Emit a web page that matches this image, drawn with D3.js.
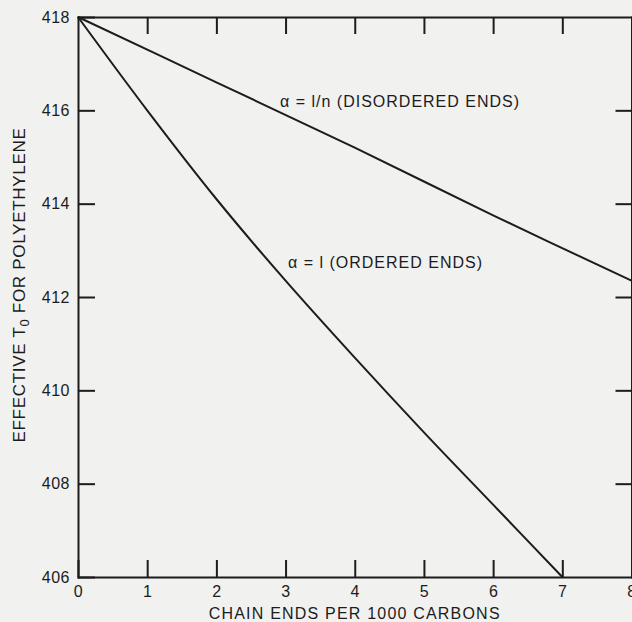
<!DOCTYPE html>
<html>
<head>
<meta charset="utf-8">
<script src="https://cdn.jsdelivr.net/npm/d3@7"></script>
<style>
  body { margin: 0; background: #f1f1f0; }
  svg { display: block; }
  .axis path, .axis line { stroke: #1c1c1c; stroke-width: 2px; }
  .axis text { font-family: 'Liberation Sans', Arial, sans-serif; font-size: 16px; fill: #1c1c1c; letter-spacing: 0.5px; }
  .lbl { font-family: 'Liberation Sans', Arial, sans-serif; font-size: 16px; fill: #1c1c1c; letter-spacing: 1px; }
</style>
</head>
<body>
<div id="chart"></div>
<script>
// x ticks and y ticks
const xTicks = [0, 1, 2, 3, 4, 5, 6, 7, 8];
const yTicks = [406, 408, 410, 412, 414, 416, 418];

// alpha = 1/n (disordered ends)
const disorderedX = [0, 2, 4, 6, 8];
const disorderedY = [418, 416.6, 415.2, 413.75, 412.35];

// alpha = 1 (ordered ends)
const orderedX = [0, 1, 2, 3, 4, 5, 6, 7];
const orderedY = [418, 416.0, 414.1, 412.35, 410.7, 409.1, 407.55, 406.0];

const margin = {top: 17, right: 1, bottom: 45, left: 78};
const width = 632 - margin.left - margin.right;
const height = 622 - margin.top - margin.bottom;

const svg = d3.select('#chart').append('svg')
  .attr('width', 632)
  .attr('height', 622)
  .append('g')
  .attr('transform', 'translate(' + margin.left + ',' + margin.top + ')');

const x = d3.scaleLinear().domain([0, 8]).range([0, 553.5]);
const y = d3.scaleLinear().domain([406, 418]).range([height, 0]);

// bottom axis, ticks pointing up
svg.append('g')
  .attr('class', 'axis')
  .attr('transform', 'translate(0,' + height + ')')
  .call(d3.axisBottom(x).tickValues(xTicks).tickFormat(d3.format('d'))
    .tickSizeInner(-17).tickSizeOuter(0).tickPadding(9));

// top axis, no labels
svg.append('g')
  .attr('class', 'axis')
  .call(d3.axisTop(x).tickValues(xTicks.slice(1, 8)).tickFormat('')
    .tickSizeInner(-17).tickSizeOuter(0));

// left axis
svg.append('g')
  .attr('class', 'axis')
  .call(d3.axisLeft(y).tickValues(yTicks).tickFormat(d3.format('d'))
    .tickSizeInner(-17).tickSizeOuter(0).tickPadding(8));

// right axis
svg.append('g')
  .attr('class', 'axis')
  .attr('transform', 'translate(' + x(8) + ',0)')
  .call(d3.axisRight(y).tickValues(yTicks.slice(1, 6)).tickFormat('')
    .tickSizeInner(-16).tickSizeOuter(0));

svg.selectAll('.axis .domain').attr('stroke-linecap', 'square');

const line = d3.line()
  .x(d => x(d[0]))
  .y(d => y(d[1]))
  .curve(d3.curveCatmullRom.alpha(0.5));

svg.append('path')
  .attr('style', 'fill: none; stroke: #1c1c1c; stroke-width: 2px')
  .attr('d', line(d3.zip(disorderedX, disorderedY)));

svg.append('path')
  .attr('style', 'fill: none; stroke: #1c1c1c; stroke-width: 2px')
  .attr('d', line(d3.zip(orderedX, orderedY)));

// curve labels
svg.append('text')
  .attr('class', 'lbl')
  .attr('x', 202)
  .attr('y', 90)
  .text('α = l/n (DISORDERED ENDS)');

svg.append('text')
  .attr('class', 'lbl')
  .attr('x', 210)
  .attr('y', 251)
  .text('α = l  (ORDERED ENDS)');

// x axis title
svg.append('text')
  .attr('class', 'lbl')
  .attr('x', x(4))
  .attr('y', height + 42)
  .attr('text-anchor', 'middle')
  .style('letter-spacing', '1.2px')
  .text('CHAIN ENDS PER 1000 CARBONS');

// y axis title with subscript
const yt = svg.append('text')
  .attr('class', 'lbl')
  .attr('transform', 'translate(' + (25 - margin.left) + ',' + (285 - margin.top) + ') rotate(-90)')
  .attr('text-anchor', 'middle')
  .style('font-size', '17px')
  .style('letter-spacing', '0.7px');
yt.append('tspan').text('EFFECTIVE  T');
yt.append('tspan').attr('dy', 4).style('font-size', '13px').text('0');
yt.append('tspan').attr('dy', -4).text(' FOR POLYETHYLENE');
</script>
</body>
</html>
